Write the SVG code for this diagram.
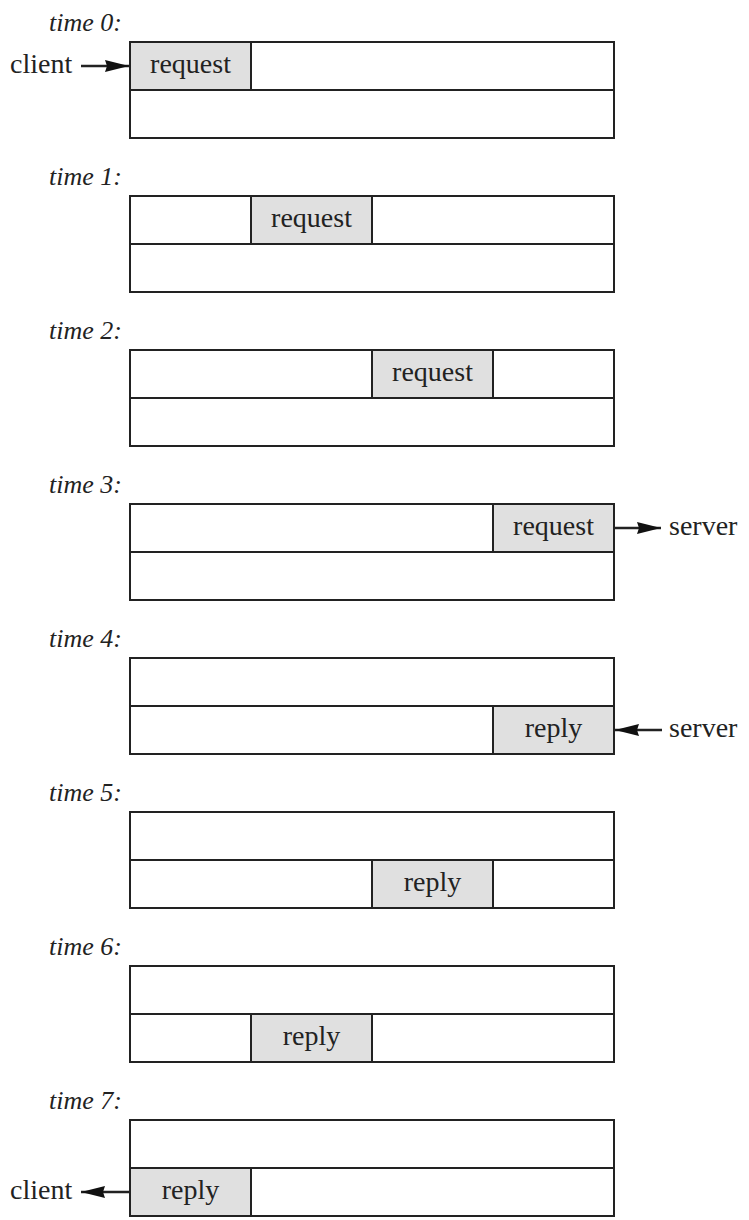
<svg xmlns="http://www.w3.org/2000/svg" width="749" height="1220" viewBox="0 0 749 1220">
<style>
.box{fill:#fff;stroke:#222;stroke-width:2}
.cell{fill:#e0e0e0;stroke:#222;stroke-width:2}
.ln{stroke:#222;stroke-width:2;fill:none}
.lbl{font-family:"Liberation Serif",serif;font-style:italic;font-size:26px;fill:#222}
.txt{font-family:"Liberation Serif",serif;font-size:28px;fill:#222;text-anchor:middle}
.side{font-family:"Liberation Serif",serif;font-size:28px;fill:#222}
.conn{stroke:#222;stroke-width:2.5;fill:none}
</style>
<defs>
<marker id="ah" viewBox="0 0 24 14" refX="24" refY="7" markerWidth="24" markerHeight="14" markerUnits="userSpaceOnUse" orient="auto">
<path d="M0,1 L24,7 L0,13 L2,7 Z" fill="#111"/>
</marker>
</defs>

<g id="t0">
<text class="lbl" x="49" y="31">time 0:</text>
<rect class="box" x="130" y="42" width="484" height="96"/>
<rect class="cell" x="130" y="42" width="121" height="48"/>
<line class="ln" x1="130" y1="90" x2="614" y2="90"/>
<text class="txt" x="190.5" y="73">request</text>
</g>
<g id="t1">
<text class="lbl" x="49" y="185">time 1:</text>
<rect class="box" x="130" y="196" width="484" height="96"/>
<rect class="cell" x="251" y="196" width="121" height="48"/>
<line class="ln" x1="130" y1="244" x2="614" y2="244"/>
<text class="txt" x="311.5" y="227">request</text>
</g>
<g id="t2">
<text class="lbl" x="49" y="339">time 2:</text>
<rect class="box" x="130" y="350" width="484" height="96"/>
<rect class="cell" x="372" y="350" width="121" height="48"/>
<line class="ln" x1="130" y1="398" x2="614" y2="398"/>
<text class="txt" x="432.5" y="381">request</text>
</g>
<g id="t3">
<text class="lbl" x="49" y="493">time 3:</text>
<rect class="box" x="130" y="504" width="484" height="96"/>
<rect class="cell" x="493" y="504" width="121" height="48"/>
<line class="ln" x1="130" y1="552" x2="614" y2="552"/>
<text class="txt" x="553.5" y="535">request</text>
</g>
<g id="t4">
<text class="lbl" x="49" y="647">time 4:</text>
<rect class="box" x="130" y="658" width="484" height="96"/>
<rect class="cell" x="493" y="706" width="121" height="48"/>
<line class="ln" x1="130" y1="706" x2="614" y2="706"/>
<text class="txt" x="553.5" y="737">reply</text>
</g>
<g id="t5">
<text class="lbl" x="49" y="801">time 5:</text>
<rect class="box" x="130" y="812" width="484" height="96"/>
<rect class="cell" x="372" y="860" width="121" height="48"/>
<line class="ln" x1="130" y1="860" x2="614" y2="860"/>
<text class="txt" x="432.5" y="891">reply</text>
</g>
<g id="t6">
<text class="lbl" x="49" y="955">time 6:</text>
<rect class="box" x="130" y="966" width="484" height="96"/>
<rect class="cell" x="251" y="1014" width="121" height="48"/>
<line class="ln" x1="130" y1="1014" x2="614" y2="1014"/>
<text class="txt" x="311.5" y="1045">reply</text>
</g>
<g id="t7">
<text class="lbl" x="49" y="1109">time 7:</text>
<rect class="box" x="130" y="1120" width="484" height="96"/>
<rect class="cell" x="130" y="1168" width="121" height="48"/>
<line class="ln" x1="130" y1="1168" x2="614" y2="1168"/>
<text class="txt" x="190.5" y="1199">reply</text>
</g>

<g id="ends">
<text class="side" x="10" y="73">client</text>
<text class="side" x="669" y="535">server</text>
<text class="side" x="669" y="737">server</text>
<text class="side" x="10" y="1199">client</text>
</g>

<g id="connectors">
<line class="conn" x1="81" y1="66" x2="129" y2="66" marker-end="url(#ah)"/>
<line class="conn" x1="615" y1="528" x2="661" y2="528" marker-end="url(#ah)"/>
<line class="conn" x1="662" y1="730" x2="615" y2="730" marker-end="url(#ah)"/>
<line class="conn" x1="129" y1="1192" x2="81" y2="1192" marker-end="url(#ah)"/>
</g>
</svg>
